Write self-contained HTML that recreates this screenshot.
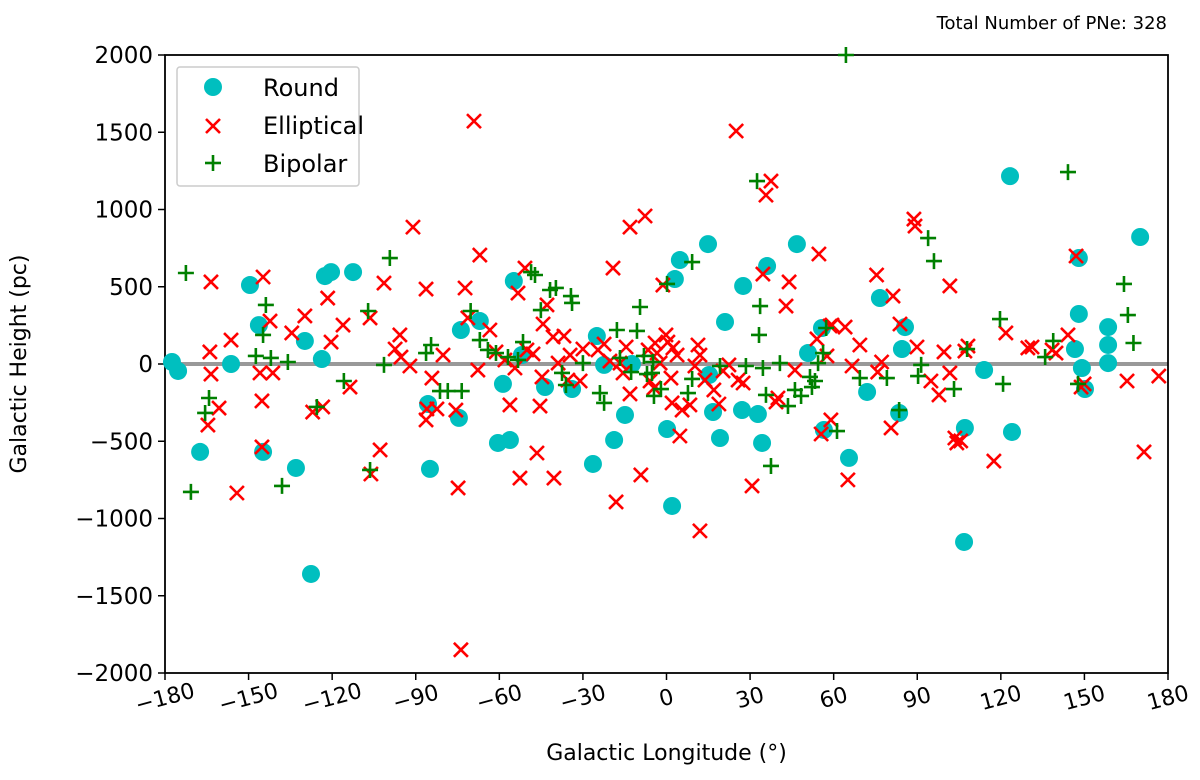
<!DOCTYPE html>
<html><head><meta charset="utf-8"><style>
body{margin:0;background:#fff;font-family:"Liberation Sans","DejaVu Sans",sans-serif}
svg text{font-family:"DejaVu Sans","Liberation Sans",sans-serif}
</style></head><body>
<svg id="chart" width="1200" height="775" viewBox="0 0 1200 775" xmlns="http://www.w3.org/2000/svg">
<text x="1167" y="29" font-size="18" text-anchor="end" fill="#000">Total Number of PNe: 328</text>
<g id="axes"></g>
<g id="marks"></g>
<g>
<rect x="177" y="67" width="182" height="119" rx="3" fill="#fff" fill-opacity="0.8" stroke="#ccc" stroke-width="1.5"/>
<circle cx="213" cy="87" r="9" fill="#00bfbf"/>
<text x="263" y="96" font-size="24">Round</text>
<g stroke="#ff0000" stroke-width="2.6"><line x1="206" y1="119" x2="220" y2="133"/><line x1="206" y1="133" x2="220" y2="119"/></g>
<text x="263" y="134" font-size="24">Elliptical</text>
<g stroke="#008000" stroke-width="2.6"><line x1="205" y1="163" x2="221" y2="163"/><line x1="213" y1="155" x2="213" y2="171"/></g>
<text x="263" y="172" font-size="24">Bipolar</text>
</g>
</svg>
<script>
const xTicks=[-180,-150,-120,-90,-60,-30,0,30,60,90,120,150,180];
const yTicks=[-2000,-1500,-1000,-500,0,500,1000,1500,2000];
const roundLon=[-177.5,-175.3,-167.4,-156.3,-149.5,-146.3,-144.8,-133,-129.8,-127.6,-123.7,-122.6,-120.4,-112.5,-85.6,-84.9,-74.5,-73.8,-67,-60.5,-58.7,-56.2,-54.8,-51.9,-43.6,-33.9,-26.4,-25,-22.4,-18.8,-14.9,-12.4,0.2,2,3,4.8,15.3,16.7,19.2,21,27.5,27.1,32.8,34.3,36.1,46.8,50.8,55.8,56.5,65.5,72,76.6,83.5,84.5,85.6,106.8,107.1,114,123.3,124,146.6,148,149.1,150.2,148,158.5,158.5,158.5,170,14.9];
const roundH=[13,-45,-569,0,511,252,-569,-673,149,-1359,32,569,595,595,-259,-679,-349,220,278,-511,-129,-492,537,58,-149,-162,-647,181,-6,-492,-330,0,-421,-919,550,673,-71,-311,-479,272,505,-298,-324,-511,634,776,71,233,-427,-608,-181,427,-317,97,239,-1152,-414,-39,1216,-440,97,324,-26,-162,686,239,123,6,822,776];
const ellLon=[-163.5,-163.9,-163.5,-164.6,-160.6,-156.3,-154.2,-144.8,-145.2,-145.2,-145.9,-142.3,-141.3,-134.5,-129.8,-127,-123.4,-121.6,-120.4,-116.1,-113.6,-106.1,-102.8,-101.4,-106.4,-97.4,-95.7,-95.3,-91,-92.1,-86.3,-86.3,-86,-84.2,-82.4,-80.2,-75.6,-74.8,-73.8,-72.3,-71.3,-69.1,-67,-67.7,-63.4,-61.2,-58,-56.2,-54.4,-53.3,-52.6,-50.8,-50.1,-47.9,-46.5,-45.4,-44.7,-44.3,-42.9,-40.7,-40.4,-38.9,-36.8,-35.4,-34.6,-31,-30,-24.6,-22.4,-20.3,-19.2,-18.1,-16.7,-15.6,-14.5,-13.1,-13.1,-9.2,-7.7,-6.6,-5.9,-4.5,-4.1,-3.4,-2.3,-1.3,-0.2,0.5,1.6,2,2.3,3.8,4.8,5.6,8.4,10.2,12,11.3,12,13.8,17,18.8,20.3,22.4,25.7,27.5,30.7,25,34.6,35.7,37.5,39.3,40,42.9,44,54,55.5,54.7,57.6,58.7,59,59.4,65.1,66.6,75.4,80.6,81.3,83.8,88.8,89.2,89.9,94.9,97.8,99.6,101.7,103.5,104.2,105.6,107.1,108.2,117.5,121.8,129.7,131.2,138.4,139.8,144.1,147,148.8,149.9,165.3,171.4,176.7,75.8,77.2,101.7,64.1,69.4,46.1];
const ellH=[531,78,-65,-395,-285,155,-835,563,-239,-537,-58,278,-58,201,311,-311,-278,427,142,252,-149,-712,-556,524,298,97,188,45,886,-13,485,-362,-291,-91,-291,58,-298,-802,-1850,492,298,1572,705,-39,220,78,26,-265,-26,459,-738,621,91,65,-576,-272,-84,259,382,175,-738,6,181,-104,58,-110,97,91,129,19,621,-893,6,-58,110,886,-194,-718,958,91,-110,-155,136,71,6,511,188,142,-91,-252,104,58,-466,-298,-265,-13,58,123,-1080,-104,-168,-259,-45,-6,-104,-123,-789,1508,582,1093,1184,-246,-220,375,531,162,-453,712,52,246,-362,252,-750,-13,576,-414,440,259,938,893,110,-110,-200,78,505,-479,-511,-498,84,116,-628,201,104,110,91,71,188,699,-149,-129,-110,-569,-78,-52,13,-58,239,123,-39];
const bipLon=[-172.5,-170.7,-165.6,-164.2,-147.4,-144.8,-143.8,-142,-138,-135.9,-125.5,-115.8,-106.4,-101.4,-99.3,-107.1,-86.3,-84.5,-81.3,-78.5,-73.5,-70.3,-67,-64.1,-61.2,-56.9,-53.3,-51.5,-48.6,-47.2,-45.1,-41.8,-39.7,-37.5,-36.1,-34.3,-33.9,-30,-23.9,-22.4,-17.8,-16.7,-12.7,-10.6,-9.5,-8.1,-7,-5.2,-4.8,-4.5,-2,0.2,9.2,7.7,9.2,19.2,28.5,33.2,33.6,34.6,35.7,37.5,40.7,43.6,46.1,48.3,32.5,51.5,52.2,53.3,54.4,56.2,57.3,61.2,64.4,69.4,79.1,83.5,90.3,91.4,93.9,96,103.2,107.9,119.7,120.8,135.9,138.8,144.1,164.2,165.6,167.6,147.7];
const bipH=[589,-828,-317,-220,52,188,382,39,-789,13,-278,-110,-686,-6,686,343,71,123,-175,-175,-175,343,155,91,71,45,26,142,595,576,349,479,492,-58,-136,440,395,6,-188,-252,220,39,-52,214,369,52,-65,-58,13,-207,-162,518,660,-188,-97,-13,-13,188,375,-26,-200,-660,6,-272,-168,-207,1184,-84,-149,-110,6,71,233,-434,2000,-91,-91,-298,-78,-6,815,666,-162,97,291,-129,45,149,1242,518,317,136,-129];

const L=165,R=1168,T=55,B=673;
const xs=v=>L+(v+180)/360*(R-L);
const ys=v=>B-(v+2000)/4000*(B-T);
const NS="http://www.w3.org/2000/svg";
function mk(tag,attrs,parent){const e=document.createElementNS(NS,tag);for(const k in attrs)e.setAttribute(k,attrs[k]);parent.appendChild(e);return e;}
const axes=document.getElementById('axes'),marks=document.getElementById('marks');

xTicks.forEach(t=>{
  const x=xs(t);
  const tk=mk('line',{x1:x,x2:x,y1:B,y2:B+7,stroke:'#000','stroke-width':1.5},axes);
  
  
  const lb=mk('text',{x:x,y:B+32,'font-size':22,'text-anchor':'middle',transform:`rotate(-15 ${x} ${B+25})`},axes);
  lb.textContent=String(t).replace('-','\u2212');
  
  
});
yTicks.forEach(t=>{
  const y=ys(t);
  const tk=mk('line',{x1:L-7,x2:L,y1:y,y2:y,stroke:'#000','stroke-width':1.5},axes);
  
  
  const lb=mk('text',{x:L-12,y:y+8,'font-size':23,'text-anchor':'end'},axes);
  lb.textContent=String(t).replace('-','\u2212');
  
  
});
const zl=mk('line',{x1:L,x2:R,y1:ys(0),y2:ys(0),stroke:'#999','stroke-width':4},axes);


const xt=mk('text',{x:(L+R)/2,y:760,'font-size':22,'text-anchor':'middle'},axes);
xt.textContent='Galactic Longitude (°)';


const yt=mk('text',{x:0,y:0,'font-size':22,'text-anchor':'middle',transform:`translate(26 ${(T+B)/2}) rotate(-90)`},axes);
yt.textContent='Galactic Height (pc)';



roundLon.forEach((v,i)=>{
  const c=mk('circle',{cx:xs(v),cy:ys(roundH[i]),r:9,fill:'#00bfbf'},marks);
  
  
});
ellLon.forEach((v,i)=>{
  const x=xs(v),y=ys(ellH[i]),s=7;
  const g=mk('path',{d:`M${x-s} ${y-s}L${x+s} ${y+s}M${x-s} ${y+s}L${x+s} ${y-s}`,stroke:'#ff0000','stroke-width':2.6,fill:'none'},marks);
  
  
});
bipLon.forEach((v,i)=>{
  const x=xs(v),y=ys(bipH[i]),s=8;
  const g=mk('path',{d:`M${x-s} ${y}L${x+s} ${y}M${x} ${y-s}L${x} ${y+s}`,stroke:'#008000','stroke-width':2.6,fill:'none'},marks);
  
  
});
const fr=mk('rect',{x:L,y:T,width:R-L,height:B-T,fill:'none',stroke:'#000','stroke-width':1.8},axes);


</script>
</body></html>
